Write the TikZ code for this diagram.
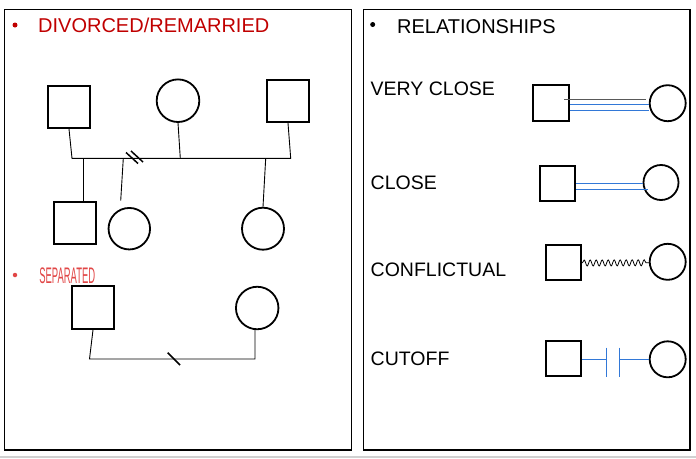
\documentclass[tikz,border=0pt]{standalone}
\usepackage{fontspec}
\setmainfont{Liberation Sans}
\usetikzlibrary{decorations.pathmorphing}
\definecolor{hdred}{RGB}{192,0,0}
\definecolor{sepred}{RGB}{225,70,70}
\definecolor{relblue}{RGB}{50,120,215}
\begin{document}
\begin{tikzpicture}[x=1pt,y=-1pt,
  sqbox/.style={draw,line width=2pt,minimum size=#1,inner sep=0,shape=rectangle},
  crc/.style={draw,line width=1.8pt,minimum size=#1,inner sep=0,shape=circle},
  conn/.style={line width=0.9pt},
  panel/.style={line width=1.3pt},
  hdtext/.style={anchor=base west,inner sep=0,font=\fontsize{20}{22}\selectfont},
  lbl/.style={anchor=base west,inner sep=0,font=\fontsize{19.5}{22}\selectfont},
  bul/.style={circle,fill,inner sep=0,minimum size=5pt},
  blueln/.style={draw=relblue,line width=1.1pt}]
\useasboundingbox (0,0) rectangle (696,458);
% panels
\draw[panel] (4.5,9.5) rectangle (351.5,450);
\draw[panel] (363.3,9.5) rectangle (690,450);
\draw[line width=2pt,black!18] (0,457) -- (696,457);
% headings
\node[bul,hdred] (b1) at (15,25) {};
\node[hdtext,text=hdred] (t1) at (38,32.3) {DIVORCED/REMARRIED};
\node[bul] (b2) at (372.7,24.5) {};
\node[hdtext] (t2) at (397,33.3) {RELATIONSHIPS};
\node[bul,minimum size=4.5pt,sepred] (b3) at (15,275) {};
\node[anchor=base west,inner sep=0,text=sepred,font=\fontsize{22.5}{22}\selectfont,xscale=0.42] (t3) at (39.3,283.3) {SEPARATED};
% divorced / remarried
\node[sqbox=42pt] (sq1) at (69,107) {};
\node[crc=42.6pt] (c1) at (178,100.7) {};
\node[sqbox=42pt] (sq2) at (288,101) {};
\node[sqbox=42pt] (sq3) at (74.8,222.8) {};
\node[crc=41.5pt] (c2) at (129.3,228.7) {};
\node[crc=42pt] (c3) at (263,228.7) {};
\coordinate (jl) at (72,158.3);
\coordinate (jr) at (290.7,158.3);
\coordinate (jc) at (180.3,158.3);
\coordinate (j3) at (83.3,158.3);
\coordinate (j4) at (123.3,158.3);
\coordinate (e4) at (120.7,200.7);
\coordinate (j5) at (265.7,158.3);
\draw[conn] (sq1.south) -- (jl) -- (jr) -- (sq2.south);
\draw[conn] (c1.south) -- (jc);
\draw[conn] (j3) -- (j3 |- sq3.north);
\draw[conn] (j4) -- (e4);
\draw[conn] (j5) -- (c3.north);
\coordinate (s1a) at (126,152.5);
\coordinate (s1b) at (138,163.5);
\coordinate (s2a) at (131,151);
\coordinate (s2b) at (143,162);
\draw[line width=1.5pt] (s1a) -- (s1b);
\draw[line width=1.5pt] (s2a) -- (s2b);
% separated
\node[sqbox=42.5pt] (sq4) at (93,307.7) {};
\node[crc=42.5pt] (c4) at (257.2,308) {};
\coordinate (sl) at (89.5,359);
\coordinate (sr) at (255,359);
\draw[conn] (sq4.south) -- (sl) -- (sr) -- (sr |- c4.south);
\coordinate (sla) at (167.7,352.7);
\coordinate (slb) at (180,365);
\draw[line width=1.6pt] (sla) -- (slb);
% relationships
\node[lbl] (l1) at (370.5,95.7) {VERY CLOSE};
\node[lbl] (l2) at (370.5,189) {CLOSE};
\node[lbl] (l3) at (370.5,276.7) {CONFLICTUAL};
\node[lbl] (l4) at (370.5,365) {CUTOFF};
% very close
\node[sqbox=36pt] (vsq) at (551.2,103.2) {};
\node[crc=36pt] (vc) at (667.7,103.2) {};
\coordinate (v0) at (564,99.5);
\coordinate (v1) at (646,99.5);
\draw[line width=1pt,draw=black!65] (v0) -- (v1);
\draw[blueln] (vsq.east |- 0,104.5) -- (vc.west |- 0,104.5);
\draw[blueln] (vsq.east |- 0,110.5) -- (vc.west |- 0,110.5);
% close
\node[sqbox=35pt] (csq) at (557.8,183.2) {};
\node[crc=35pt] (cc) at (661,182.5) {};
\draw[blueln] (csq.east |- 0,183.5) -- (cc.west |- 0,183.5);
\coordinate (ce) at (648.3,189.5);
\draw[blueln] (csq.east |- ce) -- (ce);
% conflictual
\node[sqbox=35pt] (fsq) at (563.8,262) {};
\node[crc=36pt] (fc) at (667.7,261.8) {};
\draw[line width=0.8pt,decorate,decoration={snake,segment length=6pt,amplitude=3pt}] ([yshift=-1pt]fsq.east) -- ([yshift=-1pt]fc.west);
% cutoff
\node[sqbox=35pt] (tsq) at (563.8,358.8) {};
\node[crc=36pt] (tc) at (667.7,359.3) {};
\coordinate (k1) at (606.5,359.5);
\coordinate (k2) at (619.5,359.5);
\draw[blueln] (tsq.east |- k1) -- (k1);
\draw[blueln] (k2) -- (tc.west |- k2);
\draw[blueln] (606.5,347.7) -- (606.5,377.3);
\draw[blueln] (619.5,347.7) -- (619.5,377.3);
\end{tikzpicture}
\end{document}
